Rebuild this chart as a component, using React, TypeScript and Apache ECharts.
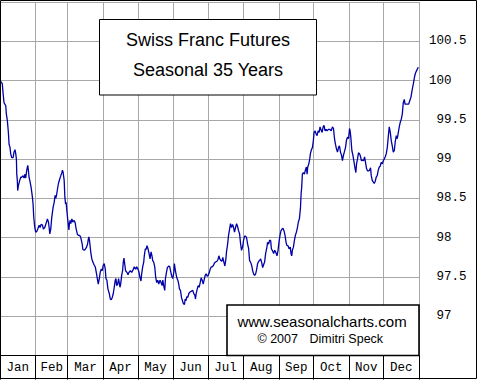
import React, { useEffect, useRef } from "react";
import * as echarts from "echarts";

// Month boundaries (day of year) and month names
const monthStarts = [0, 31, 59, 90, 120, 151, 181, 212, 243, 273, 304, 334, 365];
const monthNames = ["Jan", "Feb", "Mar", "Apr", "May", "Jun", "Jul", "Aug", "Sep", "Oct", "Nov", "Dec"];

// Y axis ticks
const yTicks = [97, 97.5, 98, 98.5, 99, 99.5, 100, 100.5];

// Seasonal pattern, [day of year, value]
const janToApr: [number, number][] = [
  [0, 100.0], [2.0, 99.96], [2.6, 99.85], [3.5, 99.72], [5.0, 99.68], [5.5, 99.58], [6.4, 99.49], [7.3, 99.34],
  [7.9, 99.19], [8.7, 99.15], [9.3, 99.07], [10.2, 99.02], [11.4, 99.02], [12.2, 99.09], [13.1, 99.12], [13.7, 99.07],
  [14.3, 99.0], [14.6, 98.81], [15.1, 98.73], [15.4, 98.6], [16.0, 98.66], [17.2, 98.73], [18.1, 98.77], [18.9, 98.77],
  [20.1, 98.79], [21.0, 98.76], [21.8, 98.81], [22.4, 98.76], [23.3, 98.86], [24.2, 98.92], [24.7, 98.86], [25.3, 98.77],
  [26.2, 98.71], [27.1, 98.64], [28.2, 98.52], [28.8, 98.43], [29.4, 98.26], [30.3, 98.13], [31.1, 98.07], [32.0, 98.08],
  [32.9, 98.11], [34.1, 98.16], [34.9, 98.13], [35.8, 98.17], [37.0, 98.16], [37.8, 98.11], [39.0, 98.13], [40.5, 98.2],
  [41.3, 98.24], [42.2, 98.2], [42.8, 98.13], [43.4, 98.05], [44.2, 98.11], [45.1, 98.26], [46.3, 98.39], [47.2, 98.45],
  [48.0, 98.54], [48.6, 98.5], [49.2, 98.54], [50.1, 98.62], [50.9, 98.69], [52.1, 98.75], [53.0, 98.79], [53.9, 98.83],
  [54.4, 98.86], [55.0, 98.83], [55.9, 98.73], [56.5, 98.52], [57.1, 98.43], [57.6, 98.45], [58.2, 98.35], [58.8, 98.26],
  [59.4, 98.18], [60.0, 98.1], [60.5, 98.18], [61.1, 98.22], [61.7, 98.18], [62.6, 98.24], [63.5, 98.2], [64.6, 98.22],
  [65.5, 98.19], [66.1, 98.13], [66.7, 98.09], [67.5, 98.04], [68.4, 98.03], [69.3, 98.03], [70.2, 98.01], [71.0, 97.96],
  [71.6, 97.92], [72.2, 97.85], [73.4, 97.84], [74.2, 97.85], [75.4, 97.88], [76.3, 97.92], [76.8, 97.97], [77.4, 98.01],
  [78.0, 97.96], [78.6, 97.88], [79.2, 97.8], [80.0, 97.73], [80.9, 97.69], [82.1, 97.65], [83.0, 97.63], [84.1, 97.54],
  [85.0, 97.46], [85.6, 97.41], [86.5, 97.48], [87.3, 97.56], [88.2, 97.6], [89.1, 97.58], [89.9, 97.65], [90.8, 97.67],
  [91.7, 97.6], [92.3, 97.48], [93.1, 97.46], [94.0, 97.35], [95.2, 97.29], [96.1, 97.22], [96.9, 97.21], [97.8, 97.24],
  [98.7, 97.29], [99.5, 97.37], [100.4, 97.46], [101.0, 97.48], [101.6, 97.39], [102.5, 97.41], [103.3, 97.48], [104.5, 97.37],
  [105.1, 97.41], [106.0, 97.52], [106.8, 97.58], [107.4, 97.69], [108.0, 97.74], [108.6, 97.67], [109.4, 97.58], [110.6, 97.56],
  [111.5, 97.53], [112.4, 97.56], [113.5, 97.58], [114.7, 97.56], [115.9, 97.59], [117.0, 97.63], [118.2, 97.6], [119.1, 97.63],
  [120.2, 97.6], [121.1, 97.56],
];

const mayToAug: [number, number][] = [
  [122.0, 97.49], [122.8, 97.45], [123.4, 97.54], [124.3, 97.63], [125.2, 97.69], [125.7, 97.77], [126.6, 97.86], [127.2, 97.85],
  [128.1, 97.9], [128.9, 97.86], [129.8, 97.8], [130.7, 97.73], [131.6, 97.82], [132.4, 97.77], [133.0, 97.71], [133.9, 97.69],
  [134.8, 97.63], [135.6, 97.5], [136.5, 97.43], [137.4, 97.46], [138.3, 97.41], [139.4, 97.46], [140.3, 97.43], [141.2, 97.39],
  [141.8, 97.46], [142.6, 97.39], [143.5, 97.33], [144.1, 97.48], [145.0, 97.56], [145.8, 97.62], [147.0, 97.64], [147.9, 97.63],
  [148.7, 97.57], [149.6, 97.51], [150.5, 97.48], [151.4, 97.56], [151.9, 97.67], [152.8, 97.58], [154.0, 97.49], [154.9, 97.46],
  [155.7, 97.41], [156.3, 97.35], [157.2, 97.33], [158.1, 97.24], [158.9, 97.2], [159.8, 97.16], [160.7, 97.15], [161.3, 97.22],
  [162.1, 97.2], [162.7, 97.25], [163.6, 97.24], [164.5, 97.29], [165.6, 97.31], [166.8, 97.32], [167.9, 97.33], [168.8, 97.29],
  [169.7, 97.27], [170.3, 97.22], [170.9, 97.29], [171.7, 97.34], [172.6, 97.39], [173.5, 97.37], [174.4, 97.43], [175.2, 97.49],
  [176.1, 97.46], [177.0, 97.41], [177.8, 97.46], [178.7, 97.52], [179.6, 97.54], [180.5, 97.51], [181.3, 97.52], [182.2, 97.55],
  [183.1, 97.6], [184.0, 97.63], [184.8, 97.63], [186.0, 97.65], [186.9, 97.68], [187.7, 97.69], [188.9, 97.7], [189.8, 97.72],
  [190.7, 97.77], [191.5, 97.73], [192.4, 97.71], [193.3, 97.7], [194.1, 97.75], [195.0, 97.69], [195.9, 97.64], [196.8, 97.73],
  [197.3, 97.82], [198.2, 97.91], [199.1, 98.03], [200.0, 98.11], [200.8, 98.18], [201.7, 98.13], [202.6, 98.17], [203.5, 98.13],
  [204.3, 98.07], [205.2, 98.13], [206.1, 98.18], [207.0, 98.14], [207.8, 98.09], [208.7, 98.05], [209.6, 97.92], [210.4, 97.84],
  [211.3, 97.88], [212.2, 97.97], [213.1, 98.02], [213.9, 98.02], [214.8, 98.0], [215.7, 97.92], [216.6, 97.86], [217.4, 97.71],
  [218.3, 97.69], [219.2, 97.65], [220.1, 97.58], [220.9, 97.54], [221.8, 97.52], [222.7, 97.54], [223.5, 97.59], [224.4, 97.67],
  [225.3, 97.7], [226.2, 97.71], [227.0, 97.73], [227.9, 97.69], [228.8, 97.62], [229.7, 97.66], [230.5, 97.69], [231.4, 97.8],
  [232.3, 97.86], [233.1, 97.94], [234.0, 97.92], [234.9, 97.97],
];

const sepToDec: [number, number][] = [
  [235.8, 97.96], [236.4, 97.86], [237.2, 97.84], [238.4, 97.8], [239.3, 97.84], [240.1, 97.82], [241.3, 97.77], [242.2, 97.84],
  [243.0, 97.94], [243.9, 98.03], [244.8, 98.09], [245.7, 98.11], [246.5, 98.12], [247.4, 98.09], [248.3, 98.03], [249.2, 97.94],
  [250.0, 97.9], [250.9, 97.9], [251.8, 97.86], [252.9, 97.88], [253.5, 97.8], [254.1, 97.77], [254.7, 97.84], [255.6, 97.88],
  [256.4, 97.96], [257.3, 98.03], [258.2, 98.07], [259.1, 98.13], [259.9, 98.2], [260.8, 98.24], [261.7, 98.37], [262.3, 98.56],
  [262.8, 98.64], [263.4, 98.81], [264.3, 98.83], [265.2, 98.81], [266.0, 98.86], [266.9, 98.9], [267.5, 98.81], [268.1, 98.9],
  [269.0, 98.94], [269.8, 99.0], [270.4, 99.07], [271.3, 99.12], [272.2, 99.15], [273.0, 99.24], [273.6, 99.34], [274.5, 99.36],
  [275.4, 99.32], [276.2, 99.3], [277.1, 99.36], [278.0, 99.34], [278.8, 99.41], [279.7, 99.37], [280.6, 99.34], [281.5, 99.41],
  [282.3, 99.43], [283.2, 99.36], [284.1, 99.38], [285.0, 99.36], [286.1, 99.38], [287.3, 99.38], [288.5, 99.36], [289.6, 99.41],
  [290.5, 99.39], [291.4, 99.26], [292.2, 99.19], [293.1, 99.13], [294.0, 99.09], [294.9, 99.15], [295.7, 99.17], [296.6, 99.09],
  [297.5, 99.05], [298.3, 98.98], [299.2, 99.05], [300.1, 99.1], [301.0, 99.15], [301.8, 99.24], [302.7, 99.28], [303.6, 99.26],
  [304.5, 99.39], [305.0, 99.36], [305.6, 99.28], [306.5, 99.11], [307.4, 99.05], [308.2, 98.98], [309.1, 98.9], [310.0, 98.83],
  [310.6, 98.94], [311.4, 99.0], [312.3, 99.08], [313.2, 99.07], [314.1, 99.03], [314.9, 98.98], [315.8, 98.99], [316.7, 98.98],
  [317.6, 99.03], [318.4, 98.96], [319.3, 98.88], [320.2, 98.85], [321.1, 98.85], [321.9, 98.86], [322.8, 98.89], [323.4, 98.79],
  [324.3, 98.73], [325.1, 98.71], [326.0, 98.69], [326.9, 98.72], [327.7, 98.77], [328.6, 98.79], [329.5, 98.86], [330.4, 98.9],
  [331.2, 98.91], [332.1, 98.96], [333.0, 98.94], [333.9, 98.98], [334.7, 99.0], [335.6, 99.03], [336.5, 99.07], [337.4, 99.15],
  [338.2, 99.28], [339.1, 99.41], [340.0, 99.34], [340.8, 99.24], [341.7, 99.17], [342.6, 99.09], [343.5, 99.11], [344.3, 99.22],
  [345.2, 99.3], [346.1, 99.26], [347.0, 99.34], [347.8, 99.41], [348.7, 99.47], [349.6, 99.51], [350.5, 99.58], [351.3, 99.72],
  [352.2, 99.76], [352.8, 99.7], [354.2, 99.7], [356.0, 99.7], [357.1, 99.75], [358.0, 99.79], [358.9, 99.87], [360.1, 99.96],
  [360.9, 100.03], [361.8, 100.09], [363.0, 100.13], [364.4, 100.17],
];

const titleLines = ["Swiss Franc Futures", "Seasonal 35 Years"];
const creditUrl = "www.seasonalcharts.com";
const creditYear = "© 2007";
const creditAuthor = "Dimitri Speck";

const MONO = "'Liberation Mono', 'DejaVu Sans Mono', monospace";
const SANS = "'Liberation Sans', Arial, sans-serif";

export default function App() {
  const ref = useRef<HTMLDivElement>(null);
  useEffect(() => {
    if (!ref.current) return;
    document.body.style.margin = "0";
    const chart = echarts.init(ref.current, undefined, { renderer: "svg" });
    const monthMids = monthNames.map((_, i) => (monthStarts[i] + monthStarts[i + 1]) / 2);
    const series = [...janToApr, ...mayToAug, ...sepToDec];
    chart.setOption({
      animation: false,
      backgroundColor: "#ffffff",
      grid: { left: 0, right: 61, top: 2, bottom: 24.4, containLabel: false },
      xAxis: {
        type: "value",
        min: 0,
        max: 365,
        axisLine: { show: true, lineStyle: { color: "#000", width: 1 } },
        axisTick: { show: true, customValues: monthStarts, length: 24, lineStyle: { color: "#000", width: 1 } },
        axisLabel: {
          customValues: monthMids,
          formatter: (v: number) => {
            const i = monthMids.findIndex((m) => Math.abs(m - v) < 0.01);
            return i >= 0 ? monthNames[i] : "";
          },
          fontFamily: MONO,
          fontSize: 12.5,
          color: "#000",
          margin: 6,
        },
        splitLine: { show: true, lineStyle: { color: "#a8a8a8", width: 1 } },
      },
      yAxis: {
        type: "value",
        position: "right",
        min: 96.5,
        max: 101,
        interval: 0.5,
        axisLine: { show: false },
        axisTick: { show: false },
        splitLine: { show: true, lineStyle: { color: "#a8a8a8", width: 1 } },
        axisLabel: {
          margin: 10,
          fontFamily: MONO,
          fontSize: 12.5,
          color: "#000",
          formatter: (v: number) => {
            const hit = yTicks.find((t) => Math.abs(t - v) < 1e-6);
            if (hit === undefined) return "";
            const s = Number.isInteger(hit) ? String(hit) : hit.toFixed(1);
            return hit >= 100 ? `{a|${s}}` : `{b|${s}}`;
          },
          rich: {
            a: { fontFamily: MONO, fontSize: 12.5, color: "#000" },
            b: { fontFamily: MONO, fontSize: 12.5, color: "#000", padding: [0, 0, 0, 7.5] },
          },
        },
      },
      series: [
        {
          type: "line",
          data: series,
          showSymbol: false,
          symbol: "none",
          lineStyle: { color: "#0000a8", width: 1.3 },
          z: 3,
        },
      ],
      graphic: [
        {
          type: "rect",
          z: 100,
          shape: { x: 0.5, y: 0.5, width: 476, height: 378 },
          style: { fill: "none", stroke: "#000", lineWidth: 1 },
        },
        {
          type: "rect",
          z: 100,
          shape: { x: 99.5, y: 19.5, width: 217, height: 75.5 },
          style: { fill: "#fff", stroke: "#000", lineWidth: 1 },
        },
        {
          type: "text",
          z: 101,
          x: 208,
          y: 40,
          style: { text: titleLines[0], font: `18px ${SANS}`, fill: "#000", align: "center", verticalAlign: "middle" },
        },
        {
          type: "text",
          z: 101,
          x: 208,
          y: 70,
          style: { text: titleLines[1], font: `18px ${SANS}`, fill: "#000", align: "center", verticalAlign: "middle" },
        },
        {
          type: "rect",
          z: 100,
          shape: { x: 227, y: 305, width: 192, height: 50.5 },
          style: { fill: "#fff", stroke: "#000", lineWidth: 1.6 },
        },
        {
          type: "text",
          z: 101,
          x: 322,
          y: 321,
          style: { text: creditUrl, font: `15px ${SANS}`, fill: "#000", align: "center", verticalAlign: "middle" },
        },
        {
          type: "text",
          z: 101,
          x: 277.7,
          y: 339,
          style: { text: creditYear, font: `12.5px ${SANS}`, fill: "#000", align: "center", verticalAlign: "middle" },
        },
        {
          type: "text",
          z: 101,
          x: 346.3,
          y: 339,
          style: { text: creditAuthor, font: `12.5px ${SANS}`, fill: "#000", align: "center", verticalAlign: "middle" },
        },
      ],
    });
    return () => chart.dispose();
  }, []);
  return <div ref={ref} style={{ position: "absolute", left: 0, top: 0, width: 480, height: 380 }} />;
}
